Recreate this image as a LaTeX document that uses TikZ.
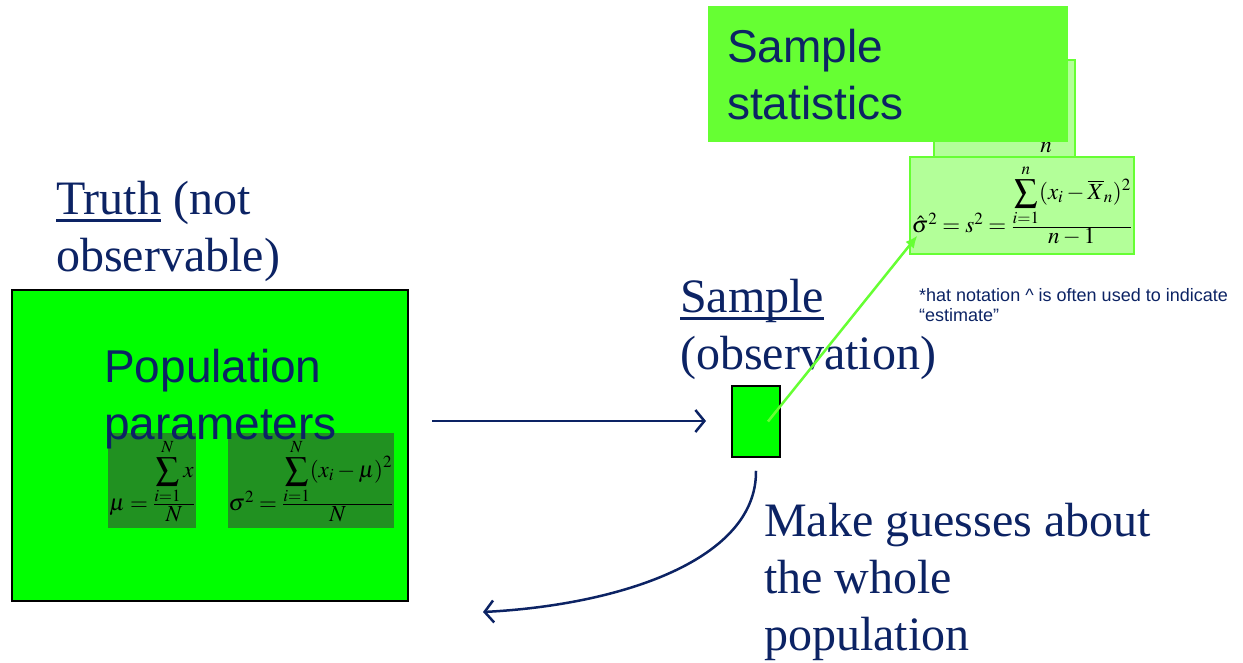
\documentclass[tikz,border=0pt]{standalone}
\usepackage{amsmath}
\usepackage{mathptmx}
\usepackage{fontspec}
\setmainfont{Liberation Serif}
\setsansfont{Liberation Sans}
\usetikzlibrary{arrows.meta,positioning}
\definecolor{navy}{RGB}{12,35,100}
\definecolor{brightgreen}{RGB}{0,255,0}
\definecolor{limegreen}{RGB}{102,255,51}
\definecolor{palegreen}{RGB}{179,255,153}
\definecolor{darkgreen}{RGB}{33,145,33}
\newcommand{\ulword}[1]{\setbox0\hbox{#1}\rlap{\rule[-7pt]{\wd0}{2.2pt}}#1}

\begin{document}
\begin{tikzpicture}[
  x=1pt, y=-1pt,
  bigbox/.style={draw=black, line width=1.5pt, fill=brightgreen, inner sep=0pt},
  formbox/.style={fill=darkgreen, inner sep=0pt, font=\fontsize{23}{26}\selectfont},
  statfill/.style={draw=limegreen, line width=1.5pt, fill=palegreen, inner sep=0pt, font=\fontsize{23}{26}\selectfont},
  serifnote/.style={text=navy, font=\fontsize{48}{57}\selectfont, align=left, inner sep=0pt, anchor=north west},
  sansnote/.style={text=navy, font=\sffamily\fontsize{46}{57}\selectfont, align=left, inner sep=0pt, anchor=north west},
  flow/.style={-{Straight Barb[length=9pt, width=22pt, line width=2.5pt]}, navy, line width=2.5pt},
  estflow/.style={-{Latex[length=12pt, width=11pt]}, limegreen, line width=2.5pt}
]
\useasboundingbox (0,0) rectangle (1243,662);

% population side
\node[bigbox, minimum width=396pt, minimum height=311pt] (popbox) at (210,445.5) {};
\node[formbox, minimum width=88pt, minimum height=95pt] (popmean) at (152,480.5)
  {$\mu=\frac{\displaystyle\sum_{i=1}^{N}x}{\displaystyle N}$};
\node[formbox, minimum width=166pt, minimum height=95pt] (popvar) at (311,480.5)
  {$\sigma^2=\frac{\displaystyle\sum_{i=1}^{N}(x_i-\mu)^2}{\displaystyle N}$};
\node[sansnote] (poptext) at (104,349) {Population\\parameters};
\node[serifnote] (truth) at (56,181) {\ulword{Truth} (not\\observable)};

% sample side
\node[bigbox, minimum width=48pt, minimum height=71pt] (samplebox) at (756,421.5) {};
\node[serifnote] (sampletext) at (680,279) {\ulword{Sample}\\(observation)};

% sample statistics
\node[statfill, minimum width=141pt, minimum height=97pt] (meanbox) at (1004.5,108.5) {};
\node[font=\fontsize{23}{26}\selectfont, inner sep=0pt, anchor=base] (meann) at (1046,152) {$n$};
\node[statfill, minimum width=224pt, minimum height=97pt] (varbox) at (1022,205.5)
  {$\hat\sigma^2=s^2=\frac{\displaystyle\sum_{i=1}^{n}(x_i-\overline{X}_n)^2}{\displaystyle n-1}$};
\node[fill=limegreen, minimum width=360pt, minimum height=136pt, inner sep=0pt] (statbox) at (888,74) {};
\node[sansnote] (stattext) at (727,29) {Sample\\statistics};
\node[text=navy, font=\sffamily\fontsize{18}{20}\selectfont, align=left, inner sep=0pt, anchor=north west] (hatnote) at (919,288)
  {*hat notation \^{} is often used to indicate\\``estimate''};

% guesses
\node[serifnote] (guesstext) at (764,503) {Make guesses about\\the whole\\population};

% connectors
\coordinate (popout) at (432,421);
\coordinate (samplein) at (706,421);
\coordinate (guessend) at (483,612);
\draw[flow] (popout) -- (samplein);
\draw[estflow] ([xshift=12pt]samplebox.center) -- ([xshift=8pt, yshift=19pt]varbox.south west);
\draw[flow] ([yshift=-13pt]samplebox.south) .. controls (757,560) and (620,605) .. (guessend);
\end{tikzpicture}
\end{document}
